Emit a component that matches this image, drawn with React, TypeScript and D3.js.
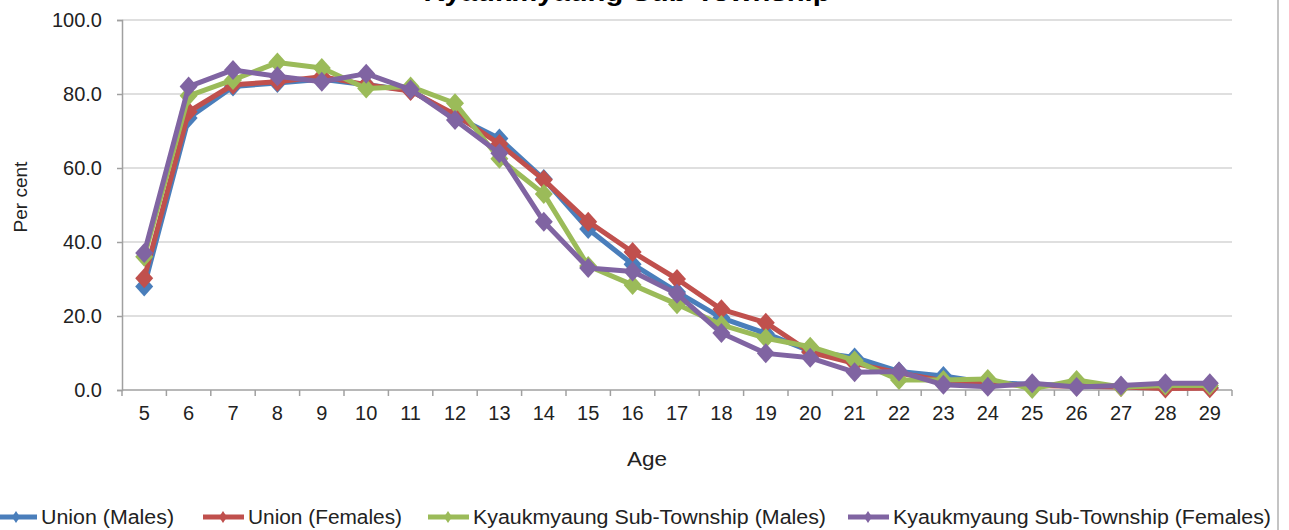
import React, { useEffect, useRef } from 'react'
import * as d3 from 'd3'

// ages on the x axis
const ages = [5, 6, 7, 8, 9, 10, 11, 12, 13, 14, 15, 16, 17, 18, 19, 20, 21, 22, 23, 24, 25, 26, 27, 28, 29]

const unionMales = [28, 73.5, 82, 83, 84, 82.5, 81, 74, 68, 57, 43.5, 34, 26.5, 19.5, 15.3, 10.5, 8.8, 5, 3.8, 2, 1.5, 1.2, 1, 0.8, 0.7]
const unionFemales = [30.2, 75.2, 82.5, 83.3, 84.7, 82.5, 80.8, 74.5, 66.5, 56.8, 45.5, 37.3, 30, 21.8, 18.2, 10.2, 7.2, 4.6, 2.5, 1.6, 1.2, 1, 0.8, 0.4, 0.5]
const kyaukMales = [36, 79.5, 83.8, 88.5, 87, 81.5, 82, 77.5, 62.5, 53, 33.5, 28.4, 23.2, 17.6, 14, 11.7, 8, 2.7, 2.7, 3, 0.3, 2.7, 0.8, 1.2, 1.2]
const kyaukFemales = [37, 82, 86.5, 84.8, 83.3, 85.5, 81.2, 73, 64, 45.5, 33, 32, 26, 15.4, 9.9, 8.7, 4.8, 5, 1.4, 0.9, 1.8, 0.8, 1.2, 1.8, 1.8]

const seriesNames = [
  'Union (Males)',
  'Union (Females)',
  'Kyaukmyaung Sub-Township (Males)',
  'Kyaukmyaung Sub-Township (Females)'
]
const seriesValues = [unionMales, unionFemales, kyaukMales, kyaukFemales]
const colors = ['#4a7ebb', '#c0504d', '#9bbb59', '#8064a2']

const yTicks = [0, 20, 40, 60, 80, 100]

const W = 1289
const H = 530
const FONT = '"Liberation Sans", Arial, sans-serif'

const App: React.FC = () => {
  const svgRef = useRef<SVGSVGElement>(null)

  useEffect(() => {
    if (!svgRef.current) return
    const svg = d3.select(svgRef.current)
    svg.selectAll('*').remove()

    const left = 122
    const right = 1232
    const top = 20
    const bottom = 390

    const x = d3.scaleBand<number>().domain(ages).range([left, right])
    const y = d3.scaleLinear().domain([0, 100]).range([bottom, top])

    svg.append('rect').attr('width', W).attr('height', H).attr('fill', '#fff')

    // outer chart border (right edge)
    svg.append('line')
      .attr('x1', 1278).attr('x2', 1278)
      .attr('y1', 0).attr('y2', H)
      .attr('stroke', '#b0b0b0').attr('stroke-width', 1.5)

    // title, mostly cut off at the top (as in the source picture)
    svg.append('text')
      .attr('x', 627).attr('y', 1)
      .attr('text-anchor', 'middle')
      .attr('font-family', FONT)
      .attr('font-weight', 'bold')
      .attr('font-size', 26)
      .attr('textLength', 407)
      .attr('lengthAdjust', 'spacingAndGlyphs')
      .text('Kyaukmyaung Sub-Township')

    // gridlines
    svg.append('g')
      .selectAll('line')
      .data(yTicks.filter(d => d > 0))
      .enter()
      .append('line')
      .attr('x1', left).attr('x2', right)
      .attr('y1', d => y(d)).attr('y2', d => y(d))
      .attr('stroke', '#d4d4d4').attr('stroke-width', 1.5)

    // y axis
    const yAxis = svg.append('g')
      .attr('transform', `translate(${left},0)`)
      .call(
        d3.axisLeft(y)
          .tickValues(yTicks)
          .tickFormat(d3.format('.1f'))
          .tickSize(5)
          .tickPadding(15)
      )
    yAxis.select('.domain').attr('stroke', '#a0a0a0').attr('stroke-width', 1.5)
    yAxis.selectAll('.tick line').attr('stroke', '#a0a0a0').attr('stroke-width', 1.5)
    yAxis.selectAll('.tick text')
      .attr('font-family', FONT).attr('font-size', 20).attr('fill', '#222')

    // x axis labels
    const xAxis = svg.append('g')
      .attr('transform', `translate(0,${bottom})`)
      .call(d3.axisBottom(x).tickSize(0).tickPadding(16))
    xAxis.select('.domain').remove()
    xAxis.selectAll('.tick text')
      .attr('font-family', FONT).attr('font-size', 20).attr('fill', '#222')

    // x axis line + tick marks between categories
    svg.append('line')
      .attr('x1', left).attr('x2', right)
      .attr('y1', bottom).attr('y2', bottom)
      .attr('stroke', '#a0a0a0').attr('stroke-width', 1.5)
    const boundaries = ages.map(a => x(a) as number).concat([right])
    svg.append('g')
      .selectAll('line')
      .data(boundaries)
      .enter()
      .append('line')
      .attr('x1', d => d).attr('x2', d => d)
      .attr('y1', bottom).attr('y2', bottom + 6)
      .attr('stroke', '#a0a0a0').attr('stroke-width', 1.5)

    // axis titles
    svg.append('text')
      .attr('transform', `translate(27,197) rotate(-90)`)
      .attr('text-anchor', 'middle')
      .attr('font-family', FONT).attr('font-size', 19).attr('fill', '#222')
      .text('Per cent')

    svg.append('text')
      .attr('x', 647).attr('y', 466)
      .attr('text-anchor', 'middle')
      .attr('font-family', FONT).attr('font-size', 20).attr('fill', '#222')
      .attr('textLength', 40)
      .attr('lengthAdjust', 'spacingAndGlyphs')
      .text('Age')

    const diamond = (cx: number, cy: number, rx: number, ry: number) =>
      `M${cx},${cy - ry}L${cx + rx},${cy}L${cx},${cy + ry}L${cx - rx},${cy}Z`

    const line = d3.line<number>()
      .x((_, i) => (x(ages[i]) as number) + x.bandwidth() / 2)
      .y(d => y(d))

    seriesValues.forEach((vals, si) => {
      const g = svg.append('g')
      g.append('path')
        .attr('d', line(vals) || '')
        .attr('fill', 'none')
        .attr('stroke', colors[si])
        .attr('stroke-width', 5)
        .attr('stroke-linejoin', 'round')
      g.selectAll('path.m')
        .data(vals)
        .enter()
        .append('path')
        .attr('class', 'm')
        .attr('d', (d, i) => diamond((x(ages[i]) as number) + x.bandwidth() / 2, y(d), 9, 10))
        .attr('fill', colors[si])
    })

    // legend
    const legendX = [-4, 203, 428, 848]
    const legendText = [133, 154, 353, 378]
    const legendY = 517
    seriesNames.forEach((name, si) => {
      const lx = legendX[si]
      const lg = svg.append('g')
      lg.append('line')
        .attr('x1', lx).attr('x2', lx + 41)
        .attr('y1', legendY).attr('y2', legendY)
        .attr('stroke', colors[si]).attr('stroke-width', 5)
      lg.append('path')
        .attr('d', diamond(lx + 20, legendY, 4, 6))
        .attr('fill', colors[si])
      lg.append('text')
        .attr('x', lx + 45).attr('y', legendY)
        .attr('dy', '0.35em')
        .attr('font-family', FONT).attr('font-size', 20).attr('fill', '#222')
        .attr('textLength', legendText[si])
        .attr('lengthAdjust', 'spacingAndGlyphs')
        .text(name)
    })
  }, [])

  return (
    <svg
      ref={svgRef}
      width={W}
      height={H}
      style={{ position: 'absolute', left: 0, top: 0, display: 'block' }}
    />
  )
}

export default App
